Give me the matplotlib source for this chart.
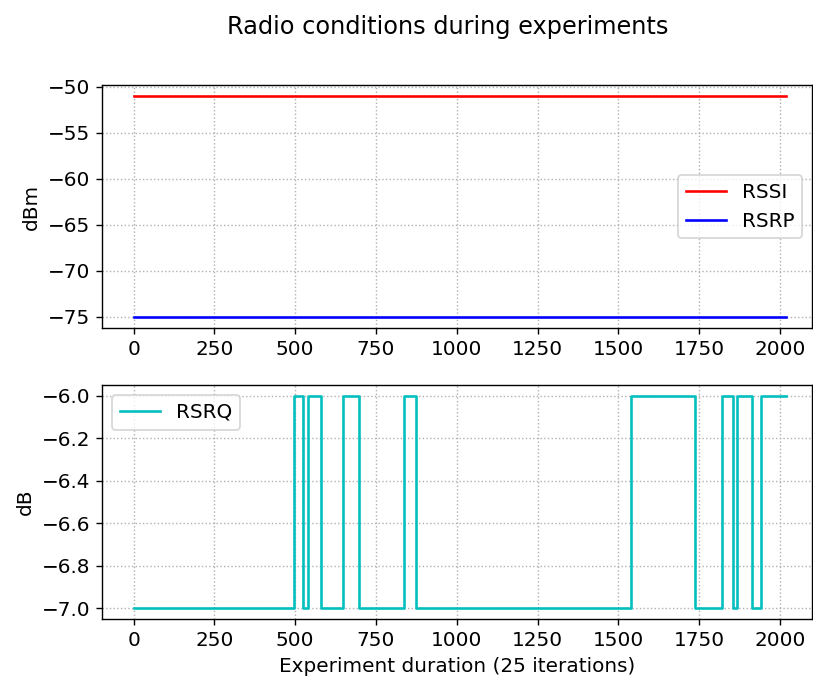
import numpy as np
import matplotlib
matplotlib.use('Agg')
import matplotlib.pyplot as plt
from matplotlib.ticker import MultipleLocator

# time axis end (samples)
t_end = 2020

# RSSI / RSRP were constant through the run
rssi_val = -51
rsrp_val = -75

# RSRQ step changes: sample index where the value changes, and the new value
rsrq_t = [0, 495, 523, 539, 580, 648, 698, 837, 874, 1540, 1738, 1819, 1854, 1868, 1912, 1942, 2020]
rsrq_v = [-7, -6, -7, -6, -7, -6, -7, -6, -7, -6, -7, -6, -7, -6, -7, -6, -6]

plt.rcParams['font.size'] = 11.5

dpi = 125
fig = plt.figure(figsize=(813/dpi, 680/dpi), dpi=dpi)
ax1 = fig.add_axes([0.1258, 0.5176, 0.8730, 0.3574])
ax2 = fig.add_axes([0.1258, 0.0897, 0.8730, 0.3443])

t = [0, t_end]
ax1.plot(t, [rssi_val, rssi_val], 'r-', label='RSSI')
ax1.plot(t, [rsrp_val, rsrp_val], 'b-', label='RSRP')
ax1.set_xlim(-97, 2099)
ax1.set_ylabel('dBm')
ax1.grid(linestyle=':')
ax1.legend(loc='center right')

ax2.step(rsrq_t, rsrq_v, 'c-', where='post', label='RSRQ')
ax2.set_xlim(-97, 2099)
ax2.yaxis.set_major_locator(MultipleLocator(0.2))
ax2.set_ylabel('dB')
ax2.set_xlabel('Experiment duration (25 iterations)')
ax2.grid(linestyle=':')
ax2.legend(loc='upper left')

fig.suptitle('Radio conditions during experiments', x=0.551, y=0.978)

fig.savefig('out.png', dpi=dpi)
